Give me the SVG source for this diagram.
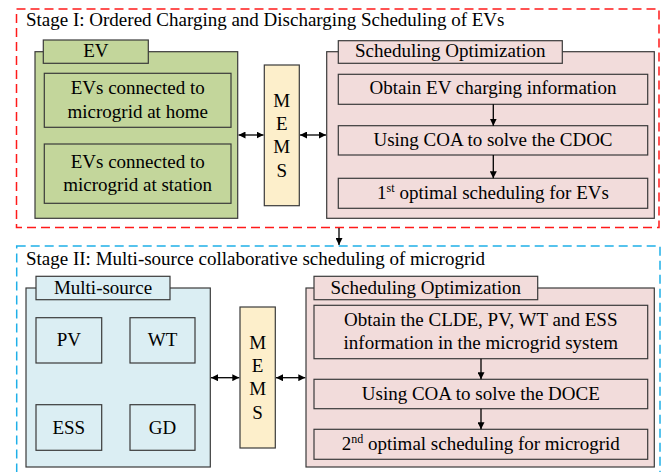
<svg xmlns="http://www.w3.org/2000/svg" width="664" height="472" viewBox="0 0 664 472">
<style>
.box{stroke:#3a3a3a;stroke-width:1.2}
.green{fill:#c3d69b}
.blue{fill:#dbeef3}
.pink{fill:#f2dcdb}
.mems{fill:#fdefcb}
.line{stroke:#000;stroke-width:1.3;fill:none}
</style>
<defs>
<marker id="ah" viewBox="0 0 10 10" refX="10" refY="5" markerWidth="7" markerHeight="7" orient="auto-start-reverse" markerUnits="userSpaceOnUse">
<path d="M0,0 L10,5 L0,10 Z" fill="#000"/>
</marker>
</defs>
<rect width="664" height="472" fill="#fff"/>
<rect id="stage1-frame" x="16.5" y="9" width="642.5" height="218.5" fill="none" stroke="#ff1a1a" stroke-width="1.5" stroke-dasharray="9,5"/>
<text x="26" y="26" font-size="19" font-family="Liberation Serif">Stage I: Ordered Charging and Discharging Scheduling of EVs</text>
<rect id="stage2-frame" x="16.7" y="246" width="643.3" height="240" fill="none" stroke="#1fb0e8" stroke-width="1.5" stroke-dasharray="9,5"/>
<text x="26" y="265.3" font-size="19" font-family="Liberation Serif">Stage II: Multi-source collaborative scheduling of microgrid</text>
<g id="ev">
<rect class="box green" x="35" y="51.7" width="202.7" height="166.6"/>
<rect class="box green" x="43.3" y="40" width="105" height="23.3"/>
<rect class="box green" x="44.3" y="73.3" width="186.7" height="54"/>
<rect class="box green" x="44.3" y="144" width="186.7" height="59.3"/>
</g>
<text x="95.8" y="57" font-size="19" font-family="Liberation Serif" text-anchor="middle">EV</text>
<text x="137.7" y="94.3" font-size="19" font-family="Liberation Serif" text-anchor="middle">EVs connected to</text>
<text x="137.7" y="117.7" font-size="19" font-family="Liberation Serif" text-anchor="middle">microgrid at home</text>
<text x="137.7" y="167.7" font-size="19" font-family="Liberation Serif" text-anchor="middle">EVs connected to</text>
<text x="137.7" y="190.7" font-size="19" font-family="Liberation Serif" text-anchor="middle">microgrid at station</text>
<g id="mems1">
<rect class="box mems" x="264.3" y="65" width="35" height="140.7"/>
</g>
<text x="281.8" y="106.5" font-size="19" font-family="Liberation Serif" text-anchor="middle">M</text>
<text x="281.8" y="130" font-size="19" font-family="Liberation Serif" text-anchor="middle">E</text>
<text x="281.8" y="153" font-size="19" font-family="Liberation Serif" text-anchor="middle">M</text>
<text x="281.8" y="176.5" font-size="19" font-family="Liberation Serif" text-anchor="middle">S</text>
<g id="sched1">
<rect class="box pink" x="326.7" y="51.7" width="327.6" height="166.6"/>
<rect class="box pink" x="338.3" y="40.7" width="224" height="22.6"/>
<rect class="box pink" x="338.3" y="74.3" width="309.4" height="30"/>
<rect class="box pink" x="338.3" y="125.7" width="309.4" height="29.3"/>
<rect class="box pink" x="338.3" y="178.3" width="309.4" height="30"/>
</g>
<text x="450.3" y="57.3" font-size="19" font-family="Liberation Serif" text-anchor="middle">Scheduling Optimization</text>
<text x="493" y="94.3" font-size="19" font-family="Liberation Serif" text-anchor="middle">Obtain EV charging information</text>
<text x="493" y="145.7" font-size="19" font-family="Liberation Serif" text-anchor="middle">Using COA to solve the CDOC</text>
<text x="493" y="199" font-size="19" font-family="Liberation Serif" text-anchor="middle">1<tspan font-size="12" dy="-7">st</tspan><tspan dy="7"> optimal scheduling for EVs</tspan></text>
<g id="multisource">
<rect class="box blue" x="26" y="288" width="184.3" height="179"/>
<rect class="box blue" x="36" y="276.3" width="134" height="23.4"/>
<rect class="box blue" x="36" y="317.7" width="65.7" height="45.3"/>
<rect class="box blue" x="130" y="317.7" width="65" height="45.3"/>
<rect class="box blue" x="36" y="404.7" width="65.7" height="45.6"/>
<rect class="box blue" x="130" y="404.7" width="65" height="45.6"/>
</g>
<text x="103" y="294.3" font-size="19" font-family="Liberation Serif" text-anchor="middle">Multi-source</text>
<text x="68.8" y="346" font-size="19" font-family="Liberation Serif" text-anchor="middle">PV</text>
<text x="162.5" y="346" font-size="19" font-family="Liberation Serif" text-anchor="middle">WT</text>
<text x="68.8" y="433.5" font-size="19" font-family="Liberation Serif" text-anchor="middle">ESS</text>
<text x="162.5" y="433.5" font-size="19" font-family="Liberation Serif" text-anchor="middle">GD</text>
<g id="mems2">
<rect class="box mems" x="240" y="307" width="35.3" height="141"/>
</g>
<text x="257.6" y="348.7" font-size="19" font-family="Liberation Serif" text-anchor="middle">M</text>
<text x="257.6" y="372" font-size="19" font-family="Liberation Serif" text-anchor="middle">E</text>
<text x="257.6" y="395.3" font-size="19" font-family="Liberation Serif" text-anchor="middle">M</text>
<text x="257.6" y="419.3" font-size="19" font-family="Liberation Serif" text-anchor="middle">S</text>
<g id="sched2">
<rect class="box pink" x="306" y="288" width="348.3" height="179"/>
<rect class="box pink" x="314" y="276.3" width="223.7" height="23.4"/>
<rect class="box pink" x="314" y="305.3" width="333.7" height="53.4"/>
<rect class="box pink" x="314" y="379.3" width="333.7" height="29.4"/>
<rect class="box pink" x="314" y="429.3" width="333.7" height="30"/>
</g>
<text x="425.8" y="293.7" font-size="19" font-family="Liberation Serif" text-anchor="middle">Scheduling Optimization</text>
<text x="480.8" y="326.3" font-size="19" font-family="Liberation Serif" text-anchor="middle">Obtain the CLDE, PV, WT and ESS</text>
<text x="480.8" y="349.3" font-size="19" font-family="Liberation Serif" text-anchor="middle">information in the microgrid system</text>
<text x="480.8" y="400.3" font-size="19" font-family="Liberation Serif" text-anchor="middle">Using COA to solve the DOCE</text>
<text x="480.8" y="450.3" font-size="19" font-family="Liberation Serif" text-anchor="middle">2<tspan font-size="12" dy="-7">nd</tspan><tspan dy="7"> optimal scheduling for microgrid</tspan></text>
<g id="connectors">
<line class="line" x1="238.5" y1="135" x2="263.5" y2="135" marker-start="url(#ah)" marker-end="url(#ah)"/>
<line class="line" x1="300" y1="135" x2="326" y2="135" marker-start="url(#ah)" marker-end="url(#ah)"/>
<line class="line" x1="493.3" y1="104.3" x2="493.3" y2="125.7" marker-end="url(#ah)"/>
<line class="line" x1="493.3" y1="155" x2="493.3" y2="178.3" marker-end="url(#ah)"/>
<line class="line" x1="339" y1="228" x2="339" y2="245" marker-end="url(#ah)"/>
<line class="line" x1="211" y1="377.7" x2="239.3" y2="377.7" marker-start="url(#ah)" marker-end="url(#ah)"/>
<line class="line" x1="276" y1="377.7" x2="305.3" y2="377.7" marker-start="url(#ah)" marker-end="url(#ah)"/>
<line class="line" x1="481" y1="358.7" x2="481" y2="379.3" marker-end="url(#ah)"/>
<line class="line" x1="481" y1="408.7" x2="481" y2="429.3" marker-end="url(#ah)"/>
</g>
</svg>
